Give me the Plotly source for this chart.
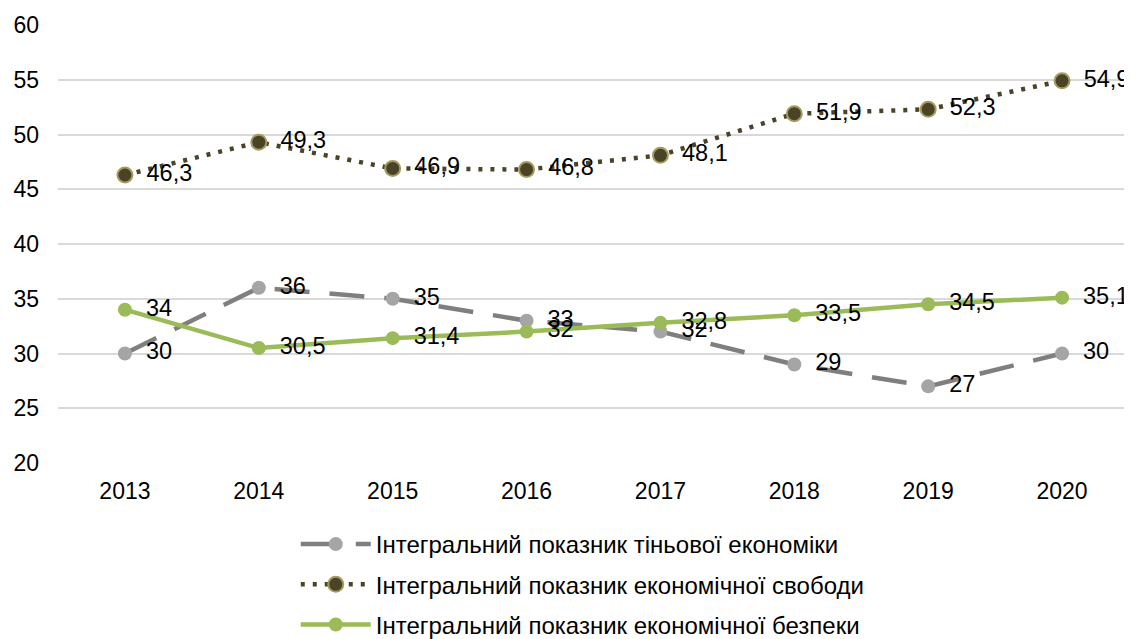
import plotly.graph_objects as go

years = ["2013", "2014", "2015", "2016", "2017", "2018", "2019", "2020"]
shadow = [30, 36, 35, 33, 32, 29, 27, 30]
freedom = [46.3, 49.3, 46.9, 46.8, 48.1, 51.9, 52.3, 54.9]
security = [34, 30.5, 31.4, 32, 32.8, 33.5, 34.5, 35.1]
names = [
    "Інтегральний показник тіньової економіки",
    "Інтегральний показник економічної свободи",
    "Інтегральний показник економічної безпеки",
]

def lbl(vals):
    return [" \u2009" + (f"{v:g}".replace(".", ",")) for v in vals]

FONT = "Liberation Sans, Arial, sans-serif"
FS = 24
LFS = 23.5
TFS = 23
fig = go.Figure()
fig.add_trace(go.Scatter(
    x=years, y=shadow, name=names[0], legendgroup="a",
    mode="lines+markers+text", text=lbl(shadow), textposition="middle right",
    line=dict(color="#7F7F7F", width=4.5, dash="35px,20px"),
    marker=dict(size=14, color="#A5A5A5"),
    textfont=dict(size=LFS, color="#000000", family=FONT),
))
fig.add_trace(go.Scatter(
    x=years, y=freedom, name=names[1], legendgroup="b",
    mode="lines+markers+text", text=lbl(freedom), textposition="middle right",
    line=dict(color="#4A4328", width=4.5, dash="4px,8px"),
    marker=dict(size=15, color="#4A4328", line=dict(color="#A59B5E", width=2)),
    textfont=dict(size=LFS, color="#000000", family=FONT),
))
fig.add_trace(go.Scatter(
    x=years, y=security, name=names[2], legendgroup="c",
    mode="lines+markers+text", text=lbl(security), textposition="middle right",
    line=dict(color="#9BBB59", width=4.5),
    marker=dict(size=14, color="#9BBB59"),
    textfont=dict(size=LFS, color="#000000", family=FONT),
))

fig.update_layout(
    width=1124, height=631,
    paper_bgcolor="white", plot_bgcolor="white",
    margin=dict(l=50, r=3, t=17, b=176),
    font=dict(family=FONT, size=FS, color="#000000"),
    showlegend=True,
    legend=dict(
        orientation="v", x=0.222, xanchor="left",
        yref="container", y=0.1854, yanchor="top",
        font=dict(size=FS, color="#000000", family=FONT),
        tracegroupgap=6, itemwidth=70,
    ),
)
fig.update_xaxes(
    type="category", range=[-0.5, 7.5], showgrid=False, showline=False,
    ticks="", ticklabelstandoff=12,
    tickfont=dict(size=TFS, color="#000000"), automargin=False,
)
fig.update_yaxes(
    range=[20, 60], dtick=5, showgrid=True, gridcolor="#D9D9D9", gridwidth=2,
    zeroline=False, showline=False, ticks="", ticklabelstandoff=18,
    tickfont=dict(size=TFS, color="#000000"), automargin=False,
)
fig.write_html("out.html")
